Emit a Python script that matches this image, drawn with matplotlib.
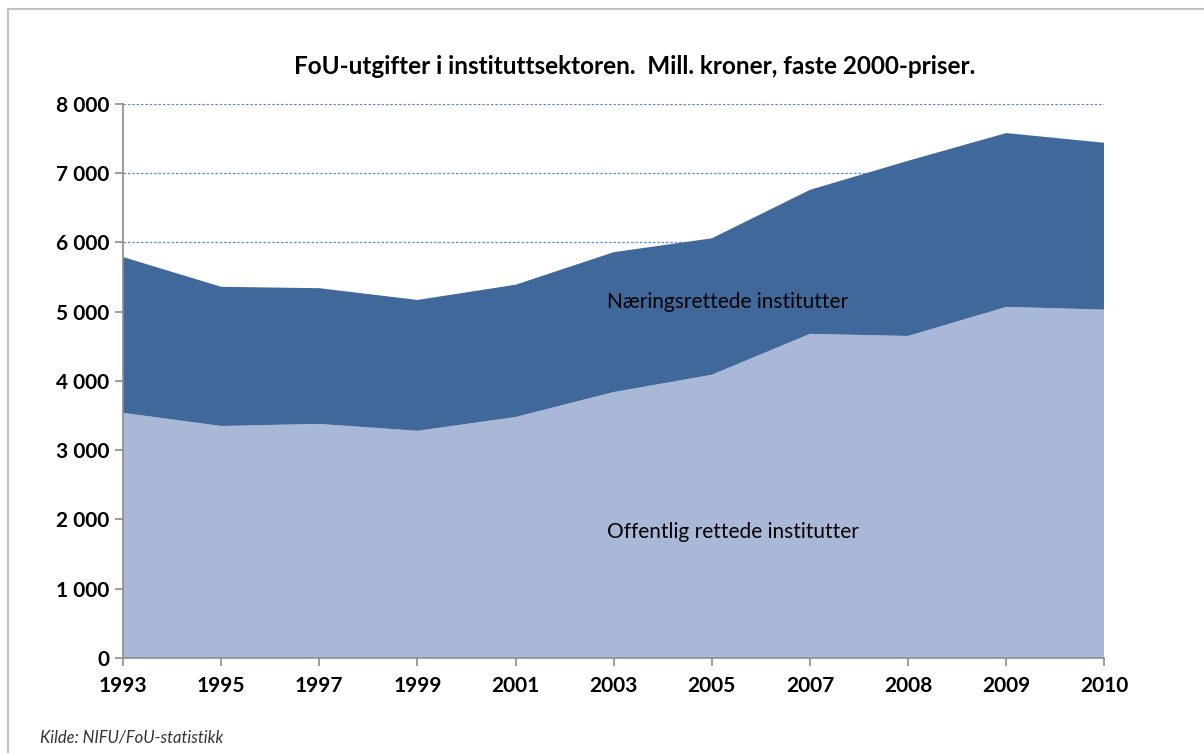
import matplotlib.pyplot as plt
from matplotlib.lines import Line2D
from matplotlib.ticker import FuncFormatter

years = ["1993", "1995", "1997", "1999", "2001", "2003", "2005", "2007", "2008", "2009", "2010"]
offentlig = [3540, 3350, 3380, 3280, 3480, 3840, 4090, 4680, 4650, 5070, 5030]
totalt = [5790, 5360, 5340, 5170, 5390, 5860, 6060, 6760, 7180, 7580, 7440]
naering = [t - o for t, o in zip(totalt, offentlig)]

title = "FoU-utgifter i instituttsektoren.  Mill. kroner, faste 2000-priser."
source = "Kilde: NIFU/FoU-statistikk"

plt.rcParams['font.family'] = ['Lato', 'DejaVu Sans']

fig = plt.figure(figsize=(12.04, 7.53), dpi=100)
ax = fig.add_axes([0.1022, 0.1262, 0.8150, 0.7357])

x = list(range(len(years)))
ax.stackplot(x, offentlig, naering, colors=["#aab8d8", "#41689a"], linewidth=0)

ax.set_xlim(0, len(years) - 1)
ax.set_ylim(0, 8000)
ax.set_yticks(range(0, 8001, 1000))
ax.yaxis.set_major_formatter(FuncFormatter(lambda v, p: f"{int(v):,}".replace(",", " ")))
ax.set_xticks(x)
ax.set_xticklabels(years)

ax.grid(axis="y", color="#5b8cc8", linestyle=(0, (2, 1.5)), linewidth=0.9)
ax.set_axisbelow(True)

for s in ["top", "right"]:
    ax.spines[s].set_visible(False)
for s in ["left", "bottom"]:
    ax.spines[s].set_color("#8c8c8c")
    ax.spines[s].set_linewidth(1.2)
ax.tick_params(axis="both", colors="#8c8c8c", length=6, width=1.2)
ax.tick_params(axis="y", labelsize=15, labelcolor="black", pad=4)
ax.tick_params(axis="x", labelsize=15, labelcolor="black", pad=7)
for lab in ax.get_xticklabels() + ax.get_yticklabels():
    lab.set_fontweight("bold")

ax.text(4.93, 5140, "Næringsrettede institutter", fontsize=15, color="black", va="center")
ax.text(4.93, 1820, "Offentlig rettede institutter", fontsize=15, color="black", va="center")

fig.text(0.527, 0.912, title, ha="center", va="center", fontsize=17.5, fontweight="bold")
fig.text(0.033, 0.02, source, ha="left", va="center", fontsize=12, style="italic", color="#333333")

# chart frame (top and left edges visible)
fig.add_artist(Line2D([0.0066, 1.0], [0.988, 0.988], color="#c0c0c0", linewidth=1.5, transform=fig.transFigure))
fig.add_artist(Line2D([0.0066, 0.0066], [0.0, 0.988], color="#c0c0c0", linewidth=1.5, transform=fig.transFigure))

fig.savefig("out.png", dpi=100)
